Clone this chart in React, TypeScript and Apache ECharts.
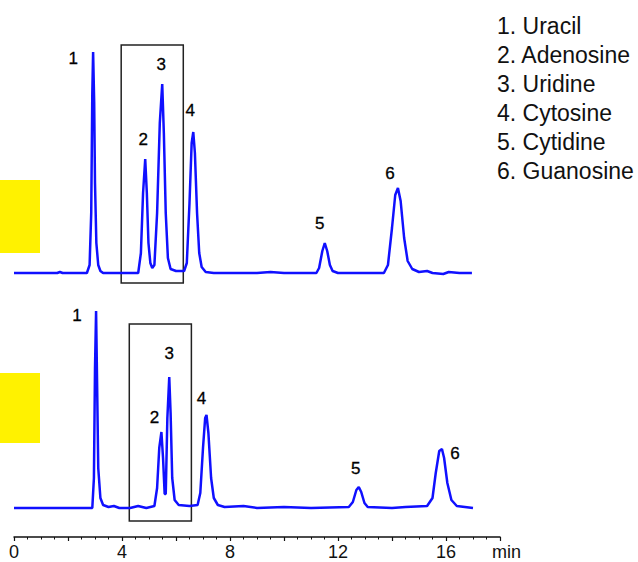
import React, { useEffect, useRef } from "react";
import * as echarts from "echarts";

const peakNumbers = ["1", "2", "3", "4", "5", "6"];
const compounds = ["Uracil", "Adenosine", "Uridine", "Cytosine", "Cytidine", "Guanosine"];

const topPeakTimes = [2.93, 4.86, 5.49, 6.64, 11.51, 14.22];
const topPeakHeights = [221, 114, 189, 141, 30, 85];
const bottomPeakTimes = [3.04, 5.46, 5.75, 7.13, 12.77, 15.85];
const bottomPeakHeights = [197, 76, 131, 93, 21, 59];

const topTrace: number[][] = [
  [0, 0], [1.6, 0], [1.7, 1], [1.8, 0], [2.7, 0], [2.8, 8], [2.86, 60], [2.9, 180], [2.93, 221],
  [2.97, 170], [3.0, 90], [3.05, 30], [3.12, 8], [3.2, 2], [3.3, 0], [4.6, 0], [4.7, 20],
  [4.78, 80], [4.86, 114], [4.92, 80], [4.98, 30], [5.05, 10], [5.12, 5], [5.2, 8], [5.3, 60],
  [5.4, 150], [5.49, 189], [5.55, 140], [5.62, 60], [5.7, 15], [5.8, 4], [6.0, 2], [6.3, 2],
  [6.4, 10], [6.5, 70], [6.58, 130], [6.64, 141], [6.7, 120], [6.78, 60], [6.86, 20], [6.95, 6],
  [7.1, 1], [7.4, 0], [9.0, 0], [9.5, 1], [10.0, 0], [11.2, 0], [11.3, 5], [11.42, 22], [11.51, 30],
  [11.6, 22], [11.7, 8], [11.8, 2], [12.0, 0], [13.7, 0], [13.85, 8], [14.0, 45], [14.12, 78],
  [14.22, 85], [14.32, 72], [14.45, 35], [14.58, 12], [14.75, 4], [15.0, 1], [15.3, 2], [15.5, 0],
  [15.9, -1], [16.1, 1], [16.5, 0], [16.96, 0],
];

const bottomTrace: number[][] = [
  [0, 0], [2.9, 0], [2.96, 30], [3.0, 140], [3.04, 197], [3.08, 120], [3.12, 40], [3.2, 10],
  [3.3, 3], [3.5, 1], [3.7, 2], [3.9, 0], [4.3, 0], [4.6, 2], [4.9, 0], [5.2, 2], [5.3, 20],
  [5.38, 60], [5.46, 76], [5.52, 50], [5.58, 14], [5.62, 14], [5.68, 90], [5.75, 131], [5.8, 95],
  [5.86, 30], [5.95, 8], [6.1, 3], [6.5, 2], [6.8, 3], [6.9, 15], [7.0, 60], [7.08, 90],
  [7.13, 93], [7.2, 75], [7.3, 30], [7.4, 10], [7.55, 3], [7.8, 1], [8.5, 2], [9.0, 0], [10.0, 1],
  [11.0, 0], [12.4, 1], [12.55, 6], [12.68, 18], [12.77, 21], [12.86, 16], [12.98, 5], [13.1, 1],
  [14.0, 0], [14.5, 1], [15.3, 2], [15.5, 10], [15.62, 35], [15.75, 57], [15.85, 59], [15.93, 50],
  [16.05, 25], [16.2, 8], [16.4, 2], [16.7, 1], [17.0, 0],
];

// [xStart, xEnd, yBottom, yTop]
const topBox = [3.97, 6.27, -10, 228];
const bottomBox = [4.27, 6.57, -13, 184];

const xMin = 0;
const xMax = 18;
const axisUnit = "min";

// label offsets (px) relative to peak apex
const topLabelOffsets = [[-20, 6], [-2, -20], [-1, -20], [-3, -22], [-5, -20], [-8, -15]];
const bottomLabelOffsets = [[-19, 4], [-7, -15], [0, -24], [-5, -17], [-3, -19], [13, 4]];

const FONT = "'Liberation Sans', Arial, sans-serif";
const BLUE = "#1010ff";

function peakMarks(times: number[], heights: number[], offsets: number[][]) {
  return {
    silent: true,
    symbol: "circle",
    symbolSize: 1,
    itemStyle: { color: "rgba(0,0,0,0)" },
    label: {
      show: true,
      position: "inside",
      fontFamily: FONT,
      fontSize: 17,
      color: "#000",
      textBorderColor: "#000",
      textBorderWidth: 0.3,
      formatter: (p: any) => p.name,
    },
    data: times.map((t, i) => ({
      name: peakNumbers[i],
      coord: [t, heights[i]],
      label: { offset: offsets[i] },
    })),
  };
}

function boxArea(b: number[]) {
  return {
    silent: true,
    itemStyle: { color: "rgba(0,0,0,0)", borderColor: "#222", borderWidth: 1.5 },
    data: [[{ xAxis: b[0], yAxis: b[2] }, { xAxis: b[1], yAxis: b[3] }]],
  };
}

export default function App() {
  const ref = useRef<HTMLDivElement>(null);
  useEffect(() => {
    if (!ref.current) return;
    const chart = echarts.init(ref.current, undefined, { renderer: "svg" });
    const hiddenX = (gi: number) => ({
      type: "value",
      gridIndex: gi,
      min: xMin,
      max: xMax,
      show: false,
    });
    const yAx = (gi: number) => ({
      type: "value",
      gridIndex: gi,
      min: -20,
      max: 240,
      show: false,
    });
    chart.setOption({
      animation: false,
      backgroundColor: "#fff",
      title: {
        text: compounds.map((c, i) => `${peakNumbers[i]}. ${c}`).join("\n"),
        left: 497,
        top: 11,
        padding: 0,
        textStyle: {
          fontFamily: FONT,
          fontSize: 23,
          lineHeight: 29,
          fontWeight: "normal",
          color: "#111",
        },
      },
      grid: [
        { left: 14, width: 486, top: 33, height: 260 },
        { left: 14, width: 486, top: 268, height: 260 },
      ],
      xAxis: [
        hiddenX(0),
        {
          type: "value",
          gridIndex: 1,
          min: xMin,
          max: xMax,
          interval: 2,
          offset: 9,
          splitLine: { show: false },
          axisLine: { show: true, onZero: false, lineStyle: { color: "#111", width: 1.5 } },
          axisTick: { show: true, length: 4, lineStyle: { color: "#111", width: 1.2 } },
          minorTick: { show: true, splitNumber: 4, length: 2.5, lineStyle: { color: "#111", width: 1 } },
          axisLabel: {
            margin: 6,
            fontFamily: FONT,
            fontSize: 18,
            color: "#111",
            formatter: (v: number) => (v % 4 === 0 && v < xMax ? String(v) : ""),
          },
        },
      ],
      yAxis: [yAx(0), yAx(1)],
      graphic: [
        { type: "rect", shape: { x: 0, y: 180, width: 40, height: 73 }, style: { fill: "#fff200" } },
        { type: "rect", shape: { x: 0, y: 373, width: 40, height: 70 }, style: { fill: "#fff200" } },
        {
          type: "text",
          left: 492,
          top: 543,
          style: { text: axisUnit, fontFamily: FONT, fontSize: 18, fill: "#111" },
        },
      ],
      series: [
        {
          type: "line",
          xAxisIndex: 0,
          yAxisIndex: 0,
          data: topTrace,
          showSymbol: false,
          lineStyle: { color: BLUE, width: 2.5 },
          markPoint: peakMarks(topPeakTimes, topPeakHeights, topLabelOffsets),
          markArea: boxArea(topBox),
        },
        {
          type: "line",
          xAxisIndex: 1,
          yAxisIndex: 1,
          data: bottomTrace,
          showSymbol: false,
          lineStyle: { color: BLUE, width: 2.5 },
          markPoint: peakMarks(bottomPeakTimes, bottomPeakHeights, bottomLabelOffsets),
          markArea: boxArea(bottomBox),
        },
      ],
    });
    return () => chart.dispose();
  }, []);
  return (
    <div
      ref={ref}
      style={{ position: "absolute", left: 0, top: 0, width: 638, height: 562 }}
    />
  );
}
